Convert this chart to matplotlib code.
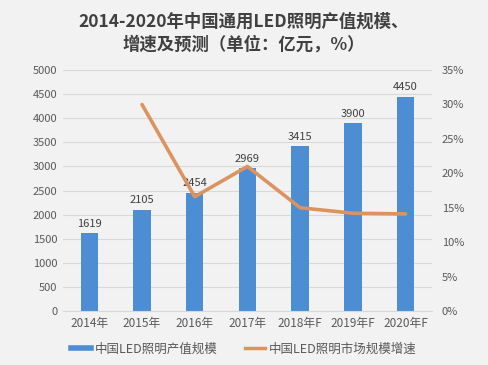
import matplotlib
matplotlib.use("Agg")
import matplotlib.pyplot as plt
import numpy as np
from matplotlib.lines import Line2D

plt.rcParams['font.family'] = ['Noto Sans CJK SC', 'DejaVu Sans']

categories = ["2014年", "2015年", "2016年", "2017年", "2018年F", "2019年F", "2020年F"]
output_values = [1619, 2105, 2454, 2969, 3415, 3900, 4450]
growth_years = ["2015年", "2016年", "2017年", "2018年F", "2019年F", "2020年F"]
growth_values = [30.0, 16.6, 21.0, 15.0, 14.2, 14.1]
left_ticks = [0, 500, 1000, 1500, 2000, 2500, 3000, 3500, 4000, 4500, 5000]
right_ticks = [0, 5, 10, 15, 20, 25, 30, 35]

title = "2014-2020年中国通用LED照明产值规模、\n增速及预测（单位：亿元，%）"
legend_bar = "中国LED照明产值规模"
legend_line = "中国LED照明市场规模增速"

bar_color = "#4D8DD3"
line_color = "#DB9460"
text_color = "#595959"

fig = plt.figure(figsize=(4.88, 3.65), dpi=100, facecolor="#F2F2F2")
ax = fig.add_axes([0.129, 0.148, 0.756, 0.660])
ax.set_facecolor("none")

x = np.arange(len(categories))
ax.bar(x, output_values, width=0.33, color=bar_color, zorder=2)
for xi, v in zip(x, output_values):
    ax.text(xi, v + 90, str(v), ha="center", va="bottom", fontsize=8, color="#404040")

ax.set_xlim(-0.5, len(categories) - 0.5)
ax.set_ylim(0, 5000)
ax.set_yticks(left_ticks)
ax.set_yticklabels([str(t) for t in left_ticks], fontsize=8, color=text_color)
ax.set_xticks(x)
ax.set_xticklabels(categories, fontsize=8.5, color=text_color)
ax.grid(axis="y", color="#D9D9D9", linewidth=0.8, zorder=0)
ax.tick_params(axis="both", length=0, pad=4)
for s in ["top", "right", "left"]:
    ax.spines[s].set_visible(False)
ax.spines["bottom"].set_color("#D9D9D9")

ax2 = ax.twinx()
gx = [categories.index(c) for c in growth_years]
ax2.plot(gx, growth_values, color=line_color, linewidth=2.6, zorder=3, solid_capstyle="round")
ax2.set_ylim(0, 35)
ax2.set_yticks(right_ticks)
ax2.set_yticklabels([f"{t}%" for t in right_ticks], fontsize=8, color=text_color)
ax2.tick_params(axis="both", length=0, pad=7)
for s in ["top", "right", "left", "bottom"]:
    ax2.spines[s].set_visible(False)

fig.text(0.5, 0.965, title, ha="center", va="top", fontsize=12.5, fontweight="bold",
         color="#404040", linespacing=1.35)

handles = [Line2D([0], [0], color=bar_color, linewidth=4),
           Line2D([0], [0], color=line_color, linewidth=2.5)]
fig.legend(handles, [legend_bar, legend_line], loc="lower center",
           bbox_to_anchor=(0.5, -0.005), ncol=2, frameon=False, fontsize=9,
           labelcolor=text_color, handlelength=1.6, columnspacing=2.2, handletextpad=0.3)

fig.savefig("out.png", dpi=100, facecolor=fig.get_facecolor())
